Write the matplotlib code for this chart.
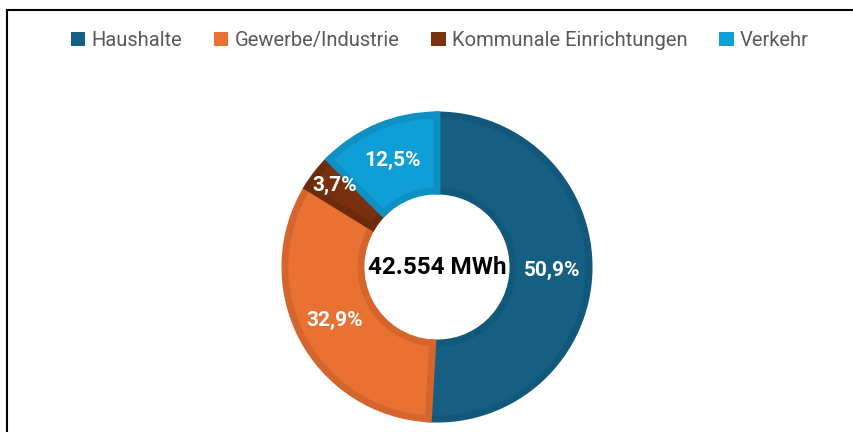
import numpy as np
import matplotlib
matplotlib.use("Agg")
import matplotlib.pyplot as plt
from matplotlib.patches import Rectangle

# Daten
kategorien = ["Haushalte", "Gewerbe/Industrie", "Kommunale Einrichtungen", "Verkehr"]
anteile = [50.9, 32.9, 3.7, 12.5]
beschriftungen = ["50,9%", "32,9%", "3,7%", "12,5%"]
gesamt = "42.554 MWh"

farben = ["#156082", "#E97132", "#78300F", "#0F9ED5"]
randfarben = ["#12587A", "#D4662D", "#6C2B0D", "#0E90C3"]

plt.rcParams['font.family'] = ['Roboto', 'DejaVu Sans']

fig = plt.figure(figsize=(8.54, 4.32), dpi=100)
ax = fig.add_axes([0.5117 - 0.179, 0.3819 - 0.352, 0.358, 0.704])

wedges, _ = ax.pie(anteile, colors=farben, startangle=90, counterclock=False,
                   radius=1.0, wedgeprops=dict(width=0.5, linewidth=0))
ax.set_xlim(-1, 1)
ax.set_ylim(-1, 1)
ax.set_aspect('equal')

# dunklerer Rand innen (wie in Excel)
for w, rc in zip(wedges, randfarben):
    w.set_edgecolor(rc)
    w.set_linewidth(5)
    w.set_clip_path(w.get_path(), w.get_transform())

# Prozentwerte
for w, txt in zip(wedges, beschriftungen):
    mitte = np.deg2rad((w.theta1 + w.theta2) / 2)
    r = 0.76 if txt != "3,7%" else 0.86
    ax.text(r * np.cos(mitte), r * np.sin(mitte), txt, ha='center', va='center',
            color='white', fontsize=15, fontweight='bold')

ax.text(0, 0, gesamt, ha='center', va='center', fontsize=17.5,
        fontweight='bold', color='black')

# Legende
handles = [Rectangle((0, 0), 1, 1, facecolor=f, edgecolor='none') for f in farben]
fig.legend(handles, kategorien, loc='center', bbox_to_anchor=(0.515, 0.907),
           ncol=4, frameon=False, fontsize=14.5, labelcolor='#595959',
           handlelength=0.7, handleheight=0.7, handletextpad=0.3,
           columnspacing=1.6)

# Rahmen
fig.patches.append(Rectangle((7 / 854, -0.1), 1.2, 1 - 10.5 / 432 + 0.1,
                             transform=fig.transFigure, fill=False,
                             edgecolor='black', linewidth=1.5))

fig.savefig("out.png", dpi=100)
